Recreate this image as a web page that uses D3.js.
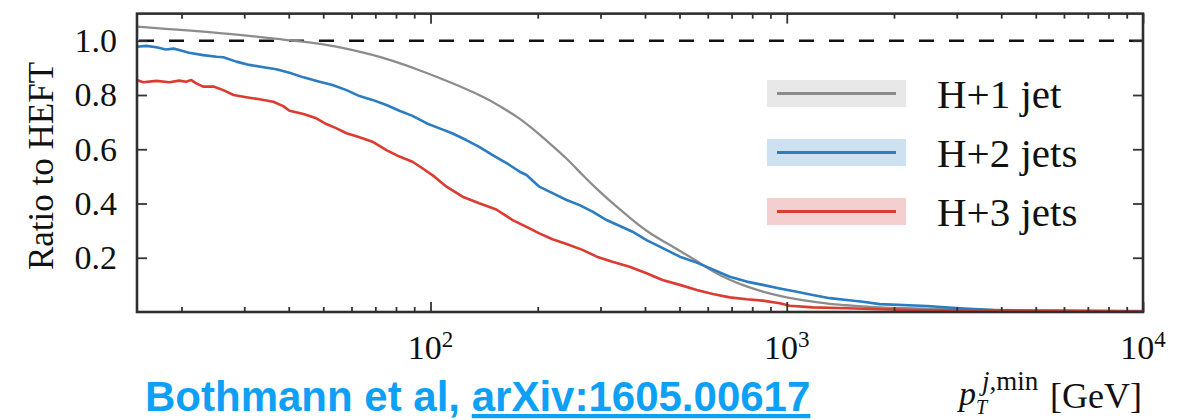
<!DOCTYPE html>
<html>
<head>
<meta charset="utf-8">
<script src="https://cdn.jsdelivr.net/npm/d3@7"></script>
<style>
  html, body { margin: 0; padding: 0; background: #fff; }
  svg { display: block; }
  .serif { font-family: "Liberation Serif", "Times New Roman", serif; fill: #111; }
</style>
</head>
<body>
<svg id="chart" width="1182" height="420"></svg>
<script>
// Ratio of the H+n jet cross sections to the HEFT prediction, vs. minimal jet pT
const pt1 = [15, 28.5, 40.7, 48.8, 60.4, 75.2, 93.1, 115, 144, 156, 178, 193, 216, 241, 267, 298, 333, 369, 412, 460, 501, 559, 620, 692, 772, 856, 956, 1067, 1183, 1321, 1474, 1635, 1825, 1985, 3062, 4722, 10000];
const ratio1 = [1.052, 1.025, 1.000, 0.991, 0.966, 0.935, 0.892, 0.845, 0.788, 0.760, 0.714, 0.677, 0.622, 0.567, 0.505, 0.444, 0.388, 0.339, 0.290, 0.254, 0.226, 0.188, 0.149, 0.118, 0.093, 0.075, 0.059, 0.047, 0.038, 0.029, 0.025, 0.020, 0.017, 0.015, 0.009, 0.006, 0.004];

const pt2 = [15.0, 15.9, 17.0, 18.1, 19.0, 19.7, 21.0, 23.0, 25.1, 26.2, 28.5, 31.0, 34.0, 36.9, 40.2, 44.0, 48.8, 53.1, 58.1, 63.2, 68.7, 75.2, 81.8, 89.0, 97.4, 106, 115, 126, 137, 149, 164, 178, 186, 202, 220, 241, 262, 285, 312, 340, 369, 404, 440, 501, 559, 620, 692, 772, 856, 956, 1067, 1183, 1321, 1474, 1635, 1825, 2474, 3062, 3790, 5482, 10000];
const ratio2 = [0.978, 0.981, 0.976, 0.968, 0.971, 0.966, 0.956, 0.947, 0.941, 0.939, 0.923, 0.911, 0.902, 0.895, 0.882, 0.865, 0.849, 0.837, 0.818, 0.796, 0.782, 0.763, 0.742, 0.723, 0.696, 0.677, 0.659, 0.634, 0.609, 0.579, 0.548, 0.517, 0.505, 0.462, 0.438, 0.413, 0.394, 0.370, 0.339, 0.317, 0.296, 0.265, 0.241, 0.204, 0.182, 0.157, 0.130, 0.112, 0.100, 0.087, 0.075, 0.063, 0.051, 0.044, 0.038, 0.029, 0.022, 0.014, 0.007, 0.004, 0.003];

const pt3 = [15.0, 15.6, 17.0, 18.5, 19.7, 20.6, 21.3, 22.0, 23.0, 24.6, 26.2, 28.0, 30.4, 33.1, 36.2, 38.6, 40.2, 44.0, 47.8, 51.0, 54.5, 58.1, 63.2, 68.7, 75.2, 81.8, 89.0, 94.9, 102.6, 110.9, 123, 137, 153, 170, 186, 202, 220, 241, 267, 293, 324, 362, 404, 448, 501, 559, 620, 692, 772, 856, 956, 1019, 1183, 1474, 1825, 2474, 3966, 10000];
const ratio3 = [0.855, 0.847, 0.852, 0.847, 0.853, 0.849, 0.855, 0.843, 0.831, 0.831, 0.818, 0.800, 0.792, 0.784, 0.775, 0.759, 0.742, 0.730, 0.714, 0.693, 0.677, 0.659, 0.644, 0.628, 0.597, 0.573, 0.554, 0.530, 0.499, 0.462, 0.425, 0.401, 0.378, 0.339, 0.314, 0.290, 0.268, 0.251, 0.229, 0.204, 0.185, 0.167, 0.143, 0.118, 0.100, 0.081, 0.066, 0.054, 0.047, 0.042, 0.032, 0.023, 0.017, 0.014, 0.010, 0.006, 0.004, 0.002];

const seriesNames = ["H+1 jet", "H+2 jets", "H+3 jets"];
const lineColors = ["#8c8c8c", "#2b7cc1", "#dc3b31"];
const bandColors = ["#e8e8e8", "#cde1f1", "#f5cfcf"];

const yTickValues = [0.2, 0.4, 0.6, 0.8, 1.0];
const xDecades = [100, 1000, 10000];
const xDecadeExponents = ["2", "3", "4"];

const svg = d3.select("#chart");
const plotLeft = 137, plotRight = 1143, plotBottom = 312;

const x = d3.scaleLog().domain([15, 1e4]).range([plotLeft, plotRight]);
const y = d3.scaleLinear().domain([0, 1.1]).range([plotBottom, plotBottom - 1.1 * 271.25]);
const plotTop = y(1.1);

const allXTicks = x.ticks().filter(d => d >= 15 && d <= 1e4);
const isDecade = d => Math.abs(Math.log10(d) - Math.round(Math.log10(d))) < 1e-9;

// reference line at ratio 1
svg.append("line")
  .attr("x1", plotLeft).attr("x2", plotRight)
  .attr("y1", y(1)).attr("y2", y(1))
  .attr("stroke", "#111").attr("stroke-width", 2.6)
  .attr("stroke-dasharray", "15,15").attr("stroke-dashoffset", 28);

// curves: the fixed-order H+1 jet result is smooth, the others are MC histograms
const series = [
  { pt: pt1, r: ratio1, curve: d3.curveBasis, w: 2.3 },
  { pt: pt2, r: ratio2, curve: d3.curveLinear, w: 2.6 },
  { pt: pt3, r: ratio3, curve: d3.curveLinear, w: 2.6 }
];
const plot = svg.append("g");
plot.append("clipPath").attr("id", "clip")
  .append("rect").attr("x", plotLeft).attr("y", plotTop)
  .attr("width", plotRight - plotLeft).attr("height", plotBottom - plotTop);
series.forEach((s, i) => {
  const pts = s.pt.map((p, k) => [p, s.r[k]]);
  const line = d3.line().x(d => x(d[0])).y(d => y(d[1])).curve(s.curve);
  plot.append("path")
    .attr("clip-path", "url(#clip)")
    .attr("d", line(pts))
    .attr("fill", "none")
    .attr("stroke", lineColors[i])
    .attr("stroke-width", s.w)
    .attr("stroke-linejoin", "round");
});

// axes with inward ticks; decades get longer ticks
function styleXTicks(g, sign) {
  g.select(".domain").remove();
  g.attr("font-family", null).attr("font-size", null);
  g.selectAll(".tick line").attr("stroke", "#333").attr("stroke-width", 1.8)
    .filter(d => isDecade(d)).attr("y2", sign * 10);
}
const gb = svg.append("g").attr("transform", `translate(0,${plotBottom})`)
  .call(d3.axisBottom(x).tickValues(allXTicks).tickSize(-5).tickFormat(""));
styleXTicks(gb, -1);
const gt = svg.append("g").attr("transform", `translate(0,${plotTop})`)
  .call(d3.axisTop(x).tickValues(allXTicks).tickSize(-5).tickFormat(""));
styleXTicks(gt, 1);

const gl = svg.append("g").attr("transform", `translate(${plotLeft},0)`)
  .call(d3.axisLeft(y).tickValues(yTickValues).tickSize(-10).tickPadding(20).tickFormat(d3.format(".1f")));
gl.select(".domain").remove();
gl.attr("font-family", null).attr("font-size", null);
gl.selectAll(".tick line").attr("stroke", "#333").attr("stroke-width", 1.8);
gl.selectAll(".tick text").attr("class", "serif").attr("fill", "#111").style("font-size", "34px");

const gr = svg.append("g").attr("transform", `translate(${plotRight},0)`)
  .call(d3.axisRight(y).tickValues(yTickValues).tickSize(-10).tickFormat(""));
gr.select(".domain").remove();
gr.selectAll(".tick line").attr("stroke", "#333").attr("stroke-width", 1.8);

// frame
svg.append("rect")
  .attr("x", plotLeft).attr("y", plotTop)
  .attr("width", plotRight - plotLeft).attr("height", plotBottom - plotTop)
  .attr("fill", "none").attr("stroke", "#2f2f2f").attr("stroke-width", 2.6);

// decade labels 10^n
const xl = svg.append("g").selectAll("text").data(xDecades).join("text")
  .attr("class", "serif")
  .attr("x", d => x(d)).attr("y", 359)
  .attr("text-anchor", "middle")
  .style("font-size", "34px");
xl.append("tspan").text("10");
xl.append("tspan").attr("dy", -12).style("font-size", "23px").text((d, i) => xDecadeExponents[i]);

// y title
svg.append("text").attr("class", "serif")
  .attr("transform", "translate(53,166) rotate(-90)")
  .attr("text-anchor", "middle")
  .style("font-size", "35px")
  .text("Ratio to HEFT");

// x title: p_T^{j,min} [GeV]
const xt = svg.append("g");
xt.append("text").attr("class", "serif").attr("x", 959).attr("y", 405)
  .style("font-size", "34px").style("font-style", "italic").text("p");
xt.append("text").attr("class", "serif").attr("x", 976).attr("y", 414)
  .style("font-size", "20px").style("font-style", "italic").text("T");
const sup = xt.append("text").attr("class", "serif").attr("x", 982).attr("y", 390)
  .style("font-size", "27px");
sup.append("tspan").style("font-style", "italic").text("j");
sup.append("tspan").text(",min");
xt.append("text").attr("class", "serif").attr("x", 1142).attr("y", 408)
  .attr("text-anchor", "end").style("font-size", "36px").text("[GeV]");

// legend
const legend = svg.append("g");
seriesNames.forEach((name, i) => {
  const cy = 93.5 + i * 59;
  legend.append("rect").attr("x", 767).attr("y", cy - 13.5).attr("width", 139).attr("height", 27)
    .attr("fill", bandColors[i]);
  legend.append("line").attr("x1", 777).attr("x2", 896).attr("y1", cy).attr("y2", cy)
    .attr("stroke", lineColors[i]).attr("stroke-width", 3);
  legend.append("text").attr("class", "serif").attr("x", 937).attr("y", cy + 14.5)
    .style("font-size", "41px").text(name);
});

// citation
const cite = svg.append("text")
  .attr("x", 145).attr("y", 411)
  .style("font-family", "'Liberation Sans', Arial, sans-serif")
  .style("font-weight", "bold").style("font-size", "42px")
  .attr("fill", "#0ea0f5");
cite.append("tspan").text("Bothmann et al, ");
cite.append("tspan").style("text-decoration", "underline").text("arXiv:1605.00617");
</script>
</body>
</html>
